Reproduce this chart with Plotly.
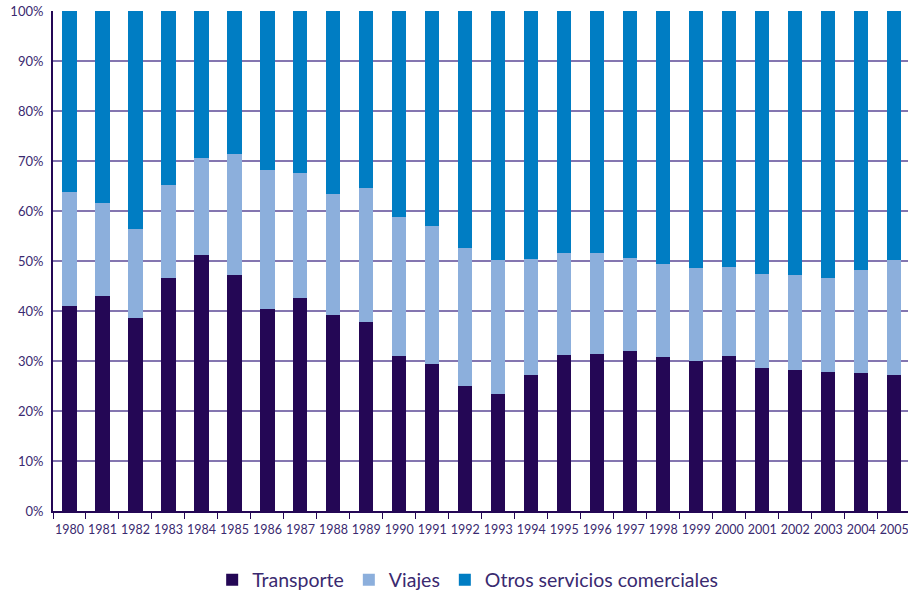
import plotly.graph_objects as go

years = [str(y) for y in range(1980, 2006)]
transporte = [41.1, 43.1, 38.7, 46.7, 51.3, 47.3, 40.5, 42.7, 39.3, 37.9, 31.1, 29.5, 25.1,
              23.5, 27.3, 31.3, 31.5, 32.1, 30.9, 30.1, 31.1, 28.7, 28.3, 27.9, 27.7, 27.3]
viajes = [22.8, 18.6, 17.8, 18.6, 19.4, 24.2, 27.8, 25.0, 24.2, 26.8, 27.8, 27.6, 27.6,
          26.8, 23.2, 20.4, 20.2, 18.6, 18.6, 18.6, 17.8, 18.8, 19.0, 18.8, 20.6, 23.0]
otros = [36.1, 38.3, 43.5, 34.7, 29.3, 28.5, 31.7, 32.3, 36.5, 35.3, 41.1, 42.9, 47.3,
         49.7, 49.5, 48.3, 48.3, 49.3, 50.5, 51.3, 51.1, 52.5, 52.7, 53.3, 51.7, 49.7]

series = [
    ("Transporte", transporte, "#240755"),
    ("Viajes", viajes, "#8cafdc"),
    ("Otros servicios comerciales", otros, "#007dc3"),
]

fig = go.Figure()
for name, vals, col in series:
    fig.add_trace(go.Bar(x=years, y=vals, name=name, marker=dict(color=col, line=dict(width=0))))

txt = "#3a2a70"
fig.update_layout(
    barmode="stack",
    bargap=0.57,
    width=908, height=593,
    margin=dict(l=53, r=0, t=11, b=82, autoexpand=False),
    paper_bgcolor="white", plot_bgcolor="white",
    font=dict(family="Lato, Open Sans, sans-serif", color=txt),
    showlegend=True,
    legend=dict(orientation="h", x=0.485, xanchor="center", y=-0.138, yanchor="middle",
                font=dict(size=19.5, color=txt), traceorder="normal"),
    xaxis=dict(type="category", showgrid=False, showline=True, linecolor="#240755", linewidth=2,
               ticks="outside", tickson="boundaries", ticklen=6, tickcolor="#240755",
               tickangle=0, automargin=False, ticklabelstandoff=6,
               tickfont=dict(size=12.5, color=txt), range=[-0.5, 25.42]),
    yaxis=dict(range=[0, 100], dtick=10, ticksuffix="%", showgrid=True, gridcolor="#8476b0",
               gridwidth=1.5, showline=True, linecolor="#240755", linewidth=2, ticks="",
               automargin=False, ticklabelstandoff=5,
               tickfont=dict(size=13, color=txt), zeroline=False),
)
fig.write_html("out.html", config={"displayModeBar": False})

with open("out.html", encoding="utf-8") as f:
    html = f.read()
html = html.replace("<head>", "<head><style>html,body{margin:0;padding:0;overflow:hidden;}</style>", 1)
with open("out.html", "w", encoding="utf-8") as f:
    f.write(html)
